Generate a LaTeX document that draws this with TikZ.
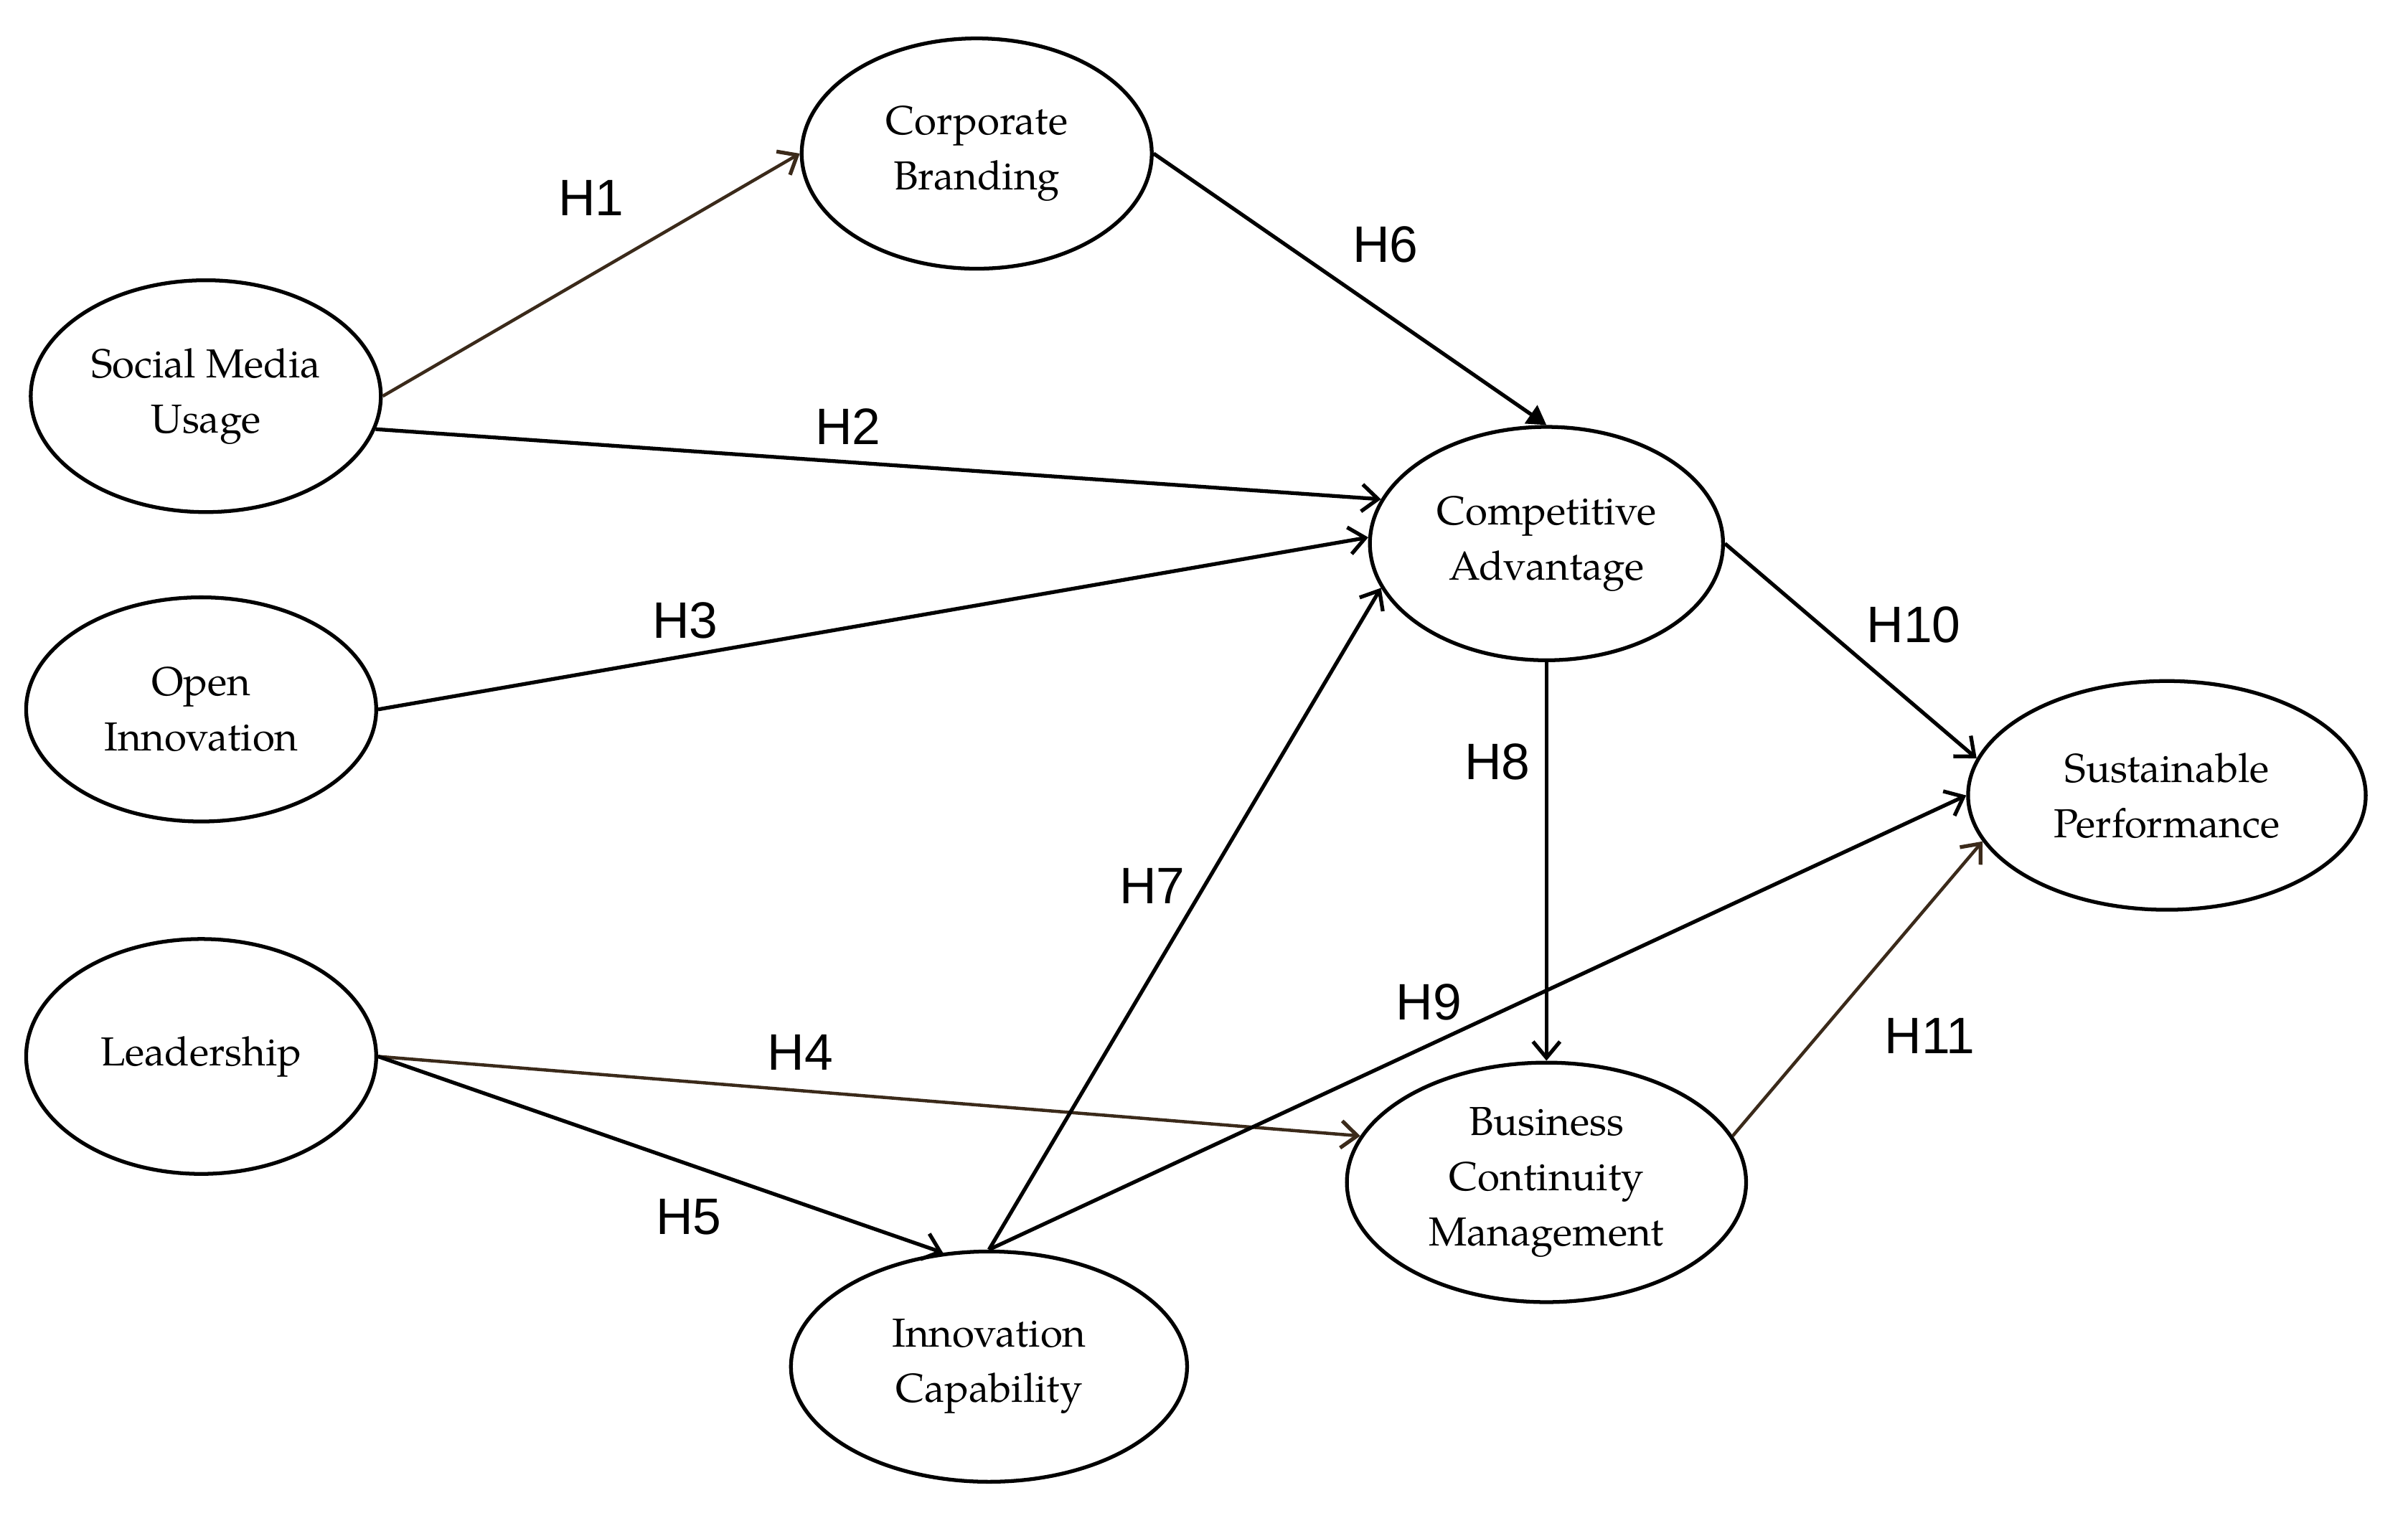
\documentclass[tikz,border=0pt]{standalone}
\usepackage{fontspec}
\setmainfont{texgyrepagella}[Extension=.otf, UprightFont=*-regular, BoldFont=*-bold, ItalicFont=*-italic, BoldItalicFont=*-bolditalic]
\newfontfamily\hypfont{Liberation Sans}
\usepackage{tikz}
\usetikzlibrary{positioning, shapes.geometric, arrows.meta}
\definecolor{darkbrown}{HTML}{3B2A1A}

\begin{document}
\begin{tikzpicture}[x=0.02cm, y=-0.02cm,
        construct/.style={ellipse, draw, line width=1.4pt, inner sep=0pt, align=center,
            font=\fontsize{15}{20.5}\selectfont},
        hyp/.style={font=\hypfont\fontsize{19}{22}\selectfont, inner sep=0pt},
        brownline/.style={->, draw=darkbrown, line width=1.2pt},
        >={Straight Barb[length=6pt, width=10pt, line width=1.4pt]}]
    \useasboundingbox (0,0) rectangle (1568,997);

    \node[construct, minimum width=4.56cm, minimum height=3cm] (cb) at (636,100) {Corporate\\Branding};
    \node[construct, minimum width=4.56cm, minimum height=3.02cm] (smu) at (134,258) {Social Media\\Usage};
    \node[construct, minimum width=4.56cm, minimum height=2.92cm] (oi) at (131,462) {Open\\Innovation};
    \node[construct, minimum width=4.56cm, minimum height=3.06cm] (ld) at (131,688) {Leadership};
    \node[construct, minimum width=5.16cm, minimum height=3cm] (ic) at (644,890) {Innovation\\Capability};
    \node[construct, minimum width=4.6cm, minimum height=3.04cm] (ca) at (1007,354) {Competitive\\Advantage};
    \node[construct, minimum width=5.2cm, minimum height=3.12cm] (bcm) at (1007,770) {Business\\Continuity\\Management};
    \node[construct, minimum width=5.18cm, minimum height=2.98cm] (sp) at (1411,518) {Sustainable\\Performance};

    \path[line width=1.4pt]
        (smu.east) edge[brownline] node[hyp, pos=.5, shift={(0,-50)}] (h1) {H1} (cb.west)
        (smu.-11) edge[->] node[hyp, pos=.47, shift={(0,-23)}] (h2) {H2} (ca.165)
        (oi.east) edge[->] node[hyp, pos=.31, shift={(0,-23)}] (h3) {H3} (ca.178)
        (ld.east) edge[brownline] node[hyp, pos=.43, shift={(0,-25)}] (h4) {H4} (bcm.166)
        (ld.east) edge[->] node[hyp, pos=.55, shift={(0,34)}] (h5) {H5} (ic.112)
        (cb.east) edge[-{Triangle[length=7pt, width=8pt]}] node[hyp, pos=.59, shift={(0,-45)}] (h6) {H6} (ca.north)
        (ic.north) edge[->] node[hyp, pos=.55, shift={(-34,0)}] (h7) {H7} (ca.195)
        (ca.south) edge[->] node[hyp, pos=.25, shift={(-32,0)}] (h8) {H8} (bcm.north)
        (ic.north) edge[->] node[hyp, pos=.45, shift={(0,-28)}] (h9) {H9} (sp.west)
        (ca.east) edge[->] node[hyp, pos=.75, shift={(0,-52)}] (h10) {H10} (sp.169)
        (bcm.14) edge[brownline] node[hyp, pos=.34, shift={(73,0)}] (h11) {H11} (sp.194)
        ;
\end{tikzpicture}
\end{document}
